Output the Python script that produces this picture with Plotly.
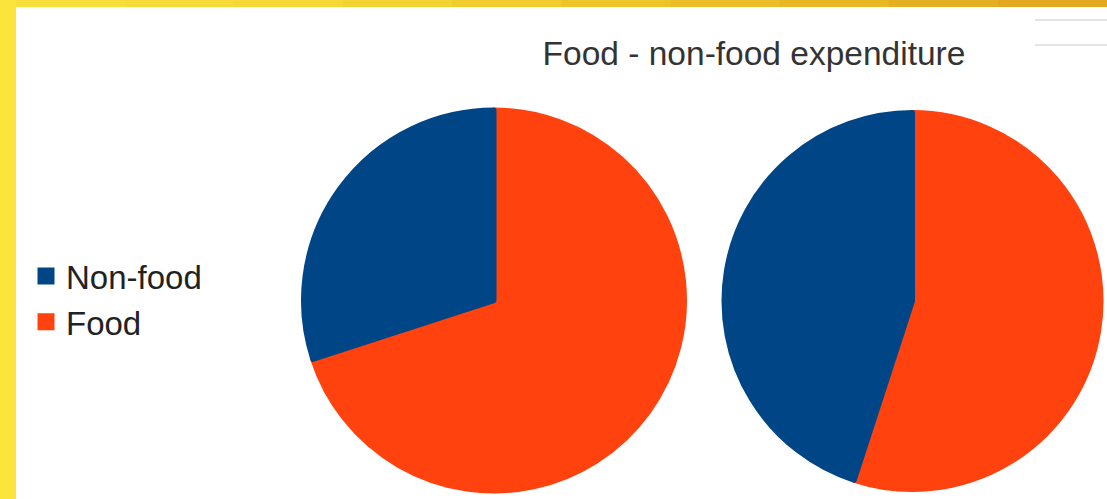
import plotly.graph_objects as go

# ---- data ----
categories = ["Non-food", "Food"]
pie1_values = [30, 70]
pie2_values = [45, 55]
slice_colors = ["#004586", "#FF420E"]
title_text = "Food - non-food expenditure"

W, H = 1107, 499

def px_x(x):
    return x / W

def px_y(y):
    return 1 - y / H

LW = 5  # slice outline in the slice colour (also enlarges the legend swatches)

# slices are laid out clockwise from 12 o'clock; list Food first so that
# Non-food ends up on the left of 12 o'clock as in the original
order = [1, 0]
labels_o = [categories[i] for i in order]
colors_o = [slice_colors[i] for i in order]
p1_o = [pie1_values[i] for i in order]
p2_o = [pie2_values[i] for i in order]

fig = go.Figure()

fig.add_trace(go.Pie(
    labels=labels_o, values=p1_o, sort=False,
    direction="clockwise", rotation=0,
    marker=dict(colors=colors_o, line=dict(width=LW, color=colors_o)),
    textinfo="none", hoverinfo="label+value+percent",
    domain=dict(x=[px_x(303.5), px_x(684.5)], y=[px_y(494), px_y(107)]),
    showlegend=True, name="Pie 1",
))
fig.add_trace(go.Pie(
    labels=labels_o, values=p2_o, sort=False,
    direction="clockwise", rotation=0,
    marker=dict(colors=colors_o, line=dict(width=LW, color=colors_o)),
    textinfo="none", hoverinfo="label+value+percent",
    domain=dict(x=[px_x(724), px_x(1101)], y=[px_y(490), px_y(112)]),
    showlegend=False, name="Pie 2",
))

# decorative frame: white card on a yellow background, top edge gradient
shapes = [
    dict(type="rect", xref="paper", yref="paper", layer="below",
         x0=px_x(16), x1=1, y0=0, y1=px_y(7),
         fillcolor="white", line=dict(width=0)),
]
grad = ["#F8DE3D", "#F7DB3A", "#F5D737", "#F3D233", "#F0CC2F",
        "#EDC52B", "#EABE28", "#E7B725", "#E4AF22", "#E2A920"]
n = len(grad)
for i, c in enumerate(grad):
    shapes.append(dict(type="rect", xref="paper", yref="paper", layer="below",
                       x0=px_x(16) + (1 - px_x(16)) * i / n,
                       x1=px_x(16) + (1 - px_x(16)) * (i + 1) / n + 0.001,
                       y0=px_y(7), y1=1, fillcolor=c, line=dict(width=0)))
for yy in (20, 45):
    shapes.append(dict(type="line", xref="paper", yref="paper", layer="below",
                       x0=px_x(1035), x1=1, y0=px_y(yy), y1=px_y(yy),
                       line=dict(color="#E4E4E4", width=2)))

fig.update_layout(
    width=W, height=H,
    margin=dict(l=0, r=0, t=0, b=0),
    paper_bgcolor="#FBE53C",
    plot_bgcolor="white",
    shapes=shapes,
    title=dict(text=title_text, x=px_x(754), y=px_y(53),
               xanchor="center", yanchor="middle",
               font=dict(family="Liberation Sans, Arial, sans-serif", size=33.5, color="#333333")),
    legend=dict(x=px_x(26), y=px_y(248), xanchor="left", yanchor="top",
                bgcolor="rgba(0,0,0,0)",
                font=dict(family="Liberation Sans, Arial, sans-serif", size=33, color="#222222"),
                traceorder="reversed"),
)

fig.write_html("out.html", post_script="document.body.style.margin='0';",
               config={"displayModeBar": False})
